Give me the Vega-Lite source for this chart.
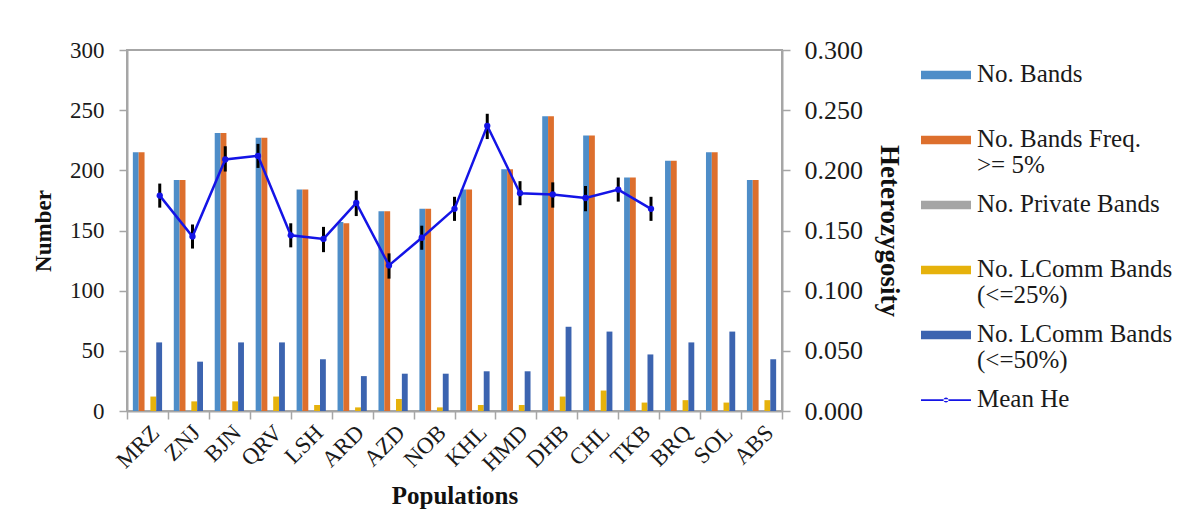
{
  "$schema": "https://vega.github.io/schema/vega-lite/v6.json",
  "width": 655,
  "height": 361,
  "autosize": {"type": "none"},
  "padding": {"left": 127, "top": 50, "right": 406, "bottom": 106},
  "background": "white",
  "config": {
    "font": "Liberation Serif",
    "view": {"stroke": "#a6a6a6", "strokeWidth": 2},
    "axis": {
      "labelFont": "Liberation Serif",
      "titleFont": "Liberation Serif",
      "labelColor": "#1a1a1a",
      "titleColor": "#111111",
      "domainColor": "#a6a6a6",
      "tickColor": "#a6a6a6",
      "domainWidth": 2,
      "tickWidth": 1.5,
      "grid": false,
      "labelFontSize": 23,
      "titleFontSize": 25,
      "titleFontWeight": "bold"
    },
    "legend": {"labelFont": "Liberation Serif"}
  },
  "datasets": {
    "bands": [
      {"pop": "MRZ", "series": "No. Bands", "value": 215},
      {"pop": "MRZ", "series": "No. Bands Freq. >= 5%", "value": 215},
      {"pop": "MRZ", "series": "No. Private Bands", "value": 0},
      {"pop": "MRZ", "series": "No. LComm Bands (<=25%)", "value": 12},
      {"pop": "MRZ", "series": "No. LComm Bands (<=50%)", "value": 57},
      {"pop": "ZNJ", "series": "No. Bands", "value": 192},
      {"pop": "ZNJ", "series": "No. Bands Freq. >= 5%", "value": 192},
      {"pop": "ZNJ", "series": "No. Private Bands", "value": 0},
      {"pop": "ZNJ", "series": "No. LComm Bands (<=25%)", "value": 8},
      {"pop": "ZNJ", "series": "No. LComm Bands (<=50%)", "value": 41},
      {"pop": "BJN", "series": "No. Bands", "value": 231},
      {"pop": "BJN", "series": "No. Bands Freq. >= 5%", "value": 231},
      {"pop": "BJN", "series": "No. Private Bands", "value": 0},
      {"pop": "BJN", "series": "No. LComm Bands (<=25%)", "value": 8},
      {"pop": "BJN", "series": "No. LComm Bands (<=50%)", "value": 57},
      {"pop": "QRV", "series": "No. Bands", "value": 227},
      {"pop": "QRV", "series": "No. Bands Freq. >= 5%", "value": 227},
      {"pop": "QRV", "series": "No. Private Bands", "value": 0},
      {"pop": "QRV", "series": "No. LComm Bands (<=25%)", "value": 12},
      {"pop": "QRV", "series": "No. LComm Bands (<=50%)", "value": 57},
      {"pop": "LSH", "series": "No. Bands", "value": 184},
      {"pop": "LSH", "series": "No. Bands Freq. >= 5%", "value": 184},
      {"pop": "LSH", "series": "No. Private Bands", "value": 0},
      {"pop": "LSH", "series": "No. LComm Bands (<=25%)", "value": 5},
      {"pop": "LSH", "series": "No. LComm Bands (<=50%)", "value": 43},
      {"pop": "ARD", "series": "No. Bands", "value": 157},
      {"pop": "ARD", "series": "No. Bands Freq. >= 5%", "value": 156},
      {"pop": "ARD", "series": "No. Private Bands", "value": 0},
      {"pop": "ARD", "series": "No. LComm Bands (<=25%)", "value": 3},
      {"pop": "ARD", "series": "No. LComm Bands (<=50%)", "value": 29},
      {"pop": "AZD", "series": "No. Bands", "value": 166},
      {"pop": "AZD", "series": "No. Bands Freq. >= 5%", "value": 166},
      {"pop": "AZD", "series": "No. Private Bands", "value": 0},
      {"pop": "AZD", "series": "No. LComm Bands (<=25%)", "value": 10},
      {"pop": "AZD", "series": "No. LComm Bands (<=50%)", "value": 31},
      {"pop": "NOB", "series": "No. Bands", "value": 168},
      {"pop": "NOB", "series": "No. Bands Freq. >= 5%", "value": 168},
      {"pop": "NOB", "series": "No. Private Bands", "value": 0},
      {"pop": "NOB", "series": "No. LComm Bands (<=25%)", "value": 3},
      {"pop": "NOB", "series": "No. LComm Bands (<=50%)", "value": 31},
      {"pop": "KHL", "series": "No. Bands", "value": 184},
      {"pop": "KHL", "series": "No. Bands Freq. >= 5%", "value": 184},
      {"pop": "KHL", "series": "No. Private Bands", "value": 0},
      {"pop": "KHL", "series": "No. LComm Bands (<=25%)", "value": 5},
      {"pop": "KHL", "series": "No. LComm Bands (<=50%)", "value": 33},
      {"pop": "HMD", "series": "No. Bands", "value": 201},
      {"pop": "HMD", "series": "No. Bands Freq. >= 5%", "value": 201},
      {"pop": "HMD", "series": "No. Private Bands", "value": 0},
      {"pop": "HMD", "series": "No. LComm Bands (<=25%)", "value": 5},
      {"pop": "HMD", "series": "No. LComm Bands (<=50%)", "value": 33},
      {"pop": "DHB", "series": "No. Bands", "value": 245},
      {"pop": "DHB", "series": "No. Bands Freq. >= 5%", "value": 245},
      {"pop": "DHB", "series": "No. Private Bands", "value": 0},
      {"pop": "DHB", "series": "No. LComm Bands (<=25%)", "value": 12},
      {"pop": "DHB", "series": "No. LComm Bands (<=50%)", "value": 70},
      {"pop": "CHL", "series": "No. Bands", "value": 229},
      {"pop": "CHL", "series": "No. Bands Freq. >= 5%", "value": 229},
      {"pop": "CHL", "series": "No. Private Bands", "value": 0},
      {"pop": "CHL", "series": "No. LComm Bands (<=25%)", "value": 17},
      {"pop": "CHL", "series": "No. LComm Bands (<=50%)", "value": 66},
      {"pop": "TKB", "series": "No. Bands", "value": 194},
      {"pop": "TKB", "series": "No. Bands Freq. >= 5%", "value": 194},
      {"pop": "TKB", "series": "No. Private Bands", "value": 0},
      {"pop": "TKB", "series": "No. LComm Bands (<=25%)", "value": 7},
      {"pop": "TKB", "series": "No. LComm Bands (<=50%)", "value": 47},
      {"pop": "BRQ", "series": "No. Bands", "value": 208},
      {"pop": "BRQ", "series": "No. Bands Freq. >= 5%", "value": 208},
      {"pop": "BRQ", "series": "No. Private Bands", "value": 0},
      {"pop": "BRQ", "series": "No. LComm Bands (<=25%)", "value": 9},
      {"pop": "BRQ", "series": "No. LComm Bands (<=50%)", "value": 57},
      {"pop": "SOL", "series": "No. Bands", "value": 215},
      {"pop": "SOL", "series": "No. Bands Freq. >= 5%", "value": 215},
      {"pop": "SOL", "series": "No. Private Bands", "value": 0},
      {"pop": "SOL", "series": "No. LComm Bands (<=25%)", "value": 7},
      {"pop": "SOL", "series": "No. LComm Bands (<=50%)", "value": 66},
      {"pop": "ABS", "series": "No. Bands", "value": 192},
      {"pop": "ABS", "series": "No. Bands Freq. >= 5%", "value": 192},
      {"pop": "ABS", "series": "No. Private Bands", "value": 0},
      {"pop": "ABS", "series": "No. LComm Bands (<=25%)", "value": 9},
      {"pop": "ABS", "series": "No. LComm Bands (<=50%)", "value": 43}
    ],
    "he": [
      {"pop": "MRZ", "he": 0.179, "lo": 0.169, "hi": 0.189},
      {"pop": "ZNJ", "he": 0.145, "lo": 0.135, "hi": 0.155},
      {"pop": "BJN", "he": 0.209, "lo": 0.199, "hi": 0.220},
      {"pop": "QRV", "he": 0.212, "lo": 0.202, "hi": 0.222},
      {"pop": "LSH", "he": 0.146, "lo": 0.136, "hi": 0.156},
      {"pop": "ARD", "he": 0.143, "lo": 0.132, "hi": 0.153},
      {"pop": "AZD", "he": 0.173, "lo": 0.162, "hi": 0.183},
      {"pop": "NOB", "he": 0.121, "lo": 0.110, "hi": 0.131},
      {"pop": "KHL", "he": 0.144, "lo": 0.134, "hi": 0.154},
      {"pop": "HMD", "he": 0.168, "lo": 0.158, "hi": 0.178},
      {"pop": "DHB", "he": 0.237, "lo": 0.226, "hi": 0.247},
      {"pop": "CHL", "he": 0.181, "lo": 0.171, "hi": 0.191},
      {"pop": "TKB", "he": 0.180, "lo": 0.169, "hi": 0.190},
      {"pop": "BRQ", "he": 0.177, "lo": 0.166, "hi": 0.187},
      {"pop": "SOL", "he": 0.184, "lo": 0.174, "hi": 0.194},
      {"pop": "ABS", "he": 0.168, "lo": 0.158, "hi": 0.178}
    ]
  },
  "layer": [
    {
      "data": {"name": "bands"},
      "mark": {"type": "bar"},
      "encoding": {
        "x": {
          "field": "pop",
          "type": "nominal",
          "sort": null,
          "scale": {"paddingInner": 0, "paddingOuter": 0},
          "axis": {
            "title": "Populations",
            "labelAngle": -45,
            "labelAlign": "right",
            "labelBaseline": "top",
            "tickBand": "extent",
            "tickSize": 8,
            "labelPadding": 2,
            "titlePadding": 8
          }
        },
        "xOffset": {
          "field": "series",
          "type": "nominal",
          "sort": null,
          "scale": {"paddingInner": 0, "paddingOuter": 1.2}
        },
        "y": {
          "field": "value",
          "type": "quantitative",
          "scale": {"domain": [0, 300]},
          "axis": {
            "title": "Number",
            "titleFontSize": 23,
            "values": [0, 50, 100, 150, 200, 250, 300],
            "tickSize": 8,
            "labelPadding": 15,
            "titlePadding": 14
          }
        },
        "color": {
          "field": "series",
          "type": "nominal",
          "scale": {
            "domain": ["No. Bands", "No. Bands Freq. >= 5%", "No. Private Bands", "No. LComm Bands (<=25%)", "No. LComm Bands (<=50%)", "Mean He"],
            "range": ["#4e8dc8", "#dd6f2d", "#a5a5a5", "#e6b20c", "#3c64b0", "#1414e6"]
          },
          "legend": {
            "orient": "none",
            "legendX": 794,
            "legendY": 0,
            "title": null,
            "symbolSize": 2500,
            "symbolStrokeWidth": 0,
            "labelFont": "Liberation Serif",
            "labelFontSize": 25,
            "labelColor": "#1a1a1a",
            "labelOffset": 6,
            "labelBaseline": "top",
            "labelLimit": 300,
            "rowPadding": 2,
            "labelExpr": "datum.label == 'No. Bands Freq. >= 5%' ? ['No. Bands Freq.', '>= 5%'] : datum.label == 'No. LComm Bands (<=25%)' ? ['No. LComm Bands', '(<=25%)'] : datum.label == 'No. LComm Bands (<=50%)' ? ['No. LComm Bands', '(<=50%)'] : datum.label == 'Mean He' ? datum.label : [datum.label, ' ']",
            "encode": {
              "symbols": {
                "update": {
                  "shape": {"signal": "datum.value == 'Mean He' ? 'M-1,-0.035H1V0.035H-1Z M-0.1,0A0.1,0.1 0 1,0 0.1,0A0.1,0.1 0 1,0 -0.1,0Z' : 'M-1,-0.17H1V0.17H-1Z'"}
                }
              },
              "labels": {
                "update": {
                  "dy": {"value": -13},
                  "lineHeight": {"value": 26}
                }
              }
            }
          }
        }
      }
    },
    {
      "data": {"name": "he"},
      "transform": [{"window": [{"op": "row_number", "as": "idx"}]}],
      "encoding": {
        "x": {"field": "idx", "type": "quantitative", "scale": {"domain": [0, 20]}, "axis": null},
        "y": {
          "field": "he",
          "type": "quantitative",
          "scale": {"domain": [0, 0.3]},
          "axis": {
            "orient": "right",
            "title": "Heterozygosity",
            "values": [0, 0.05, 0.1, 0.15, 0.2, 0.25, 0.3],
            "format": ".3f",
            "tickSize": 8,
            "labelPadding": 14,
            "labelFontSize": 26,
            "titleFontSize": 27,
            "titlePadding": 12
          }
        }
      },
      "layer": [
        {
          "mark": {"type": "rule", "color": "#000000", "strokeWidth": 3},
          "encoding": {
            "y": {"field": "lo", "type": "quantitative"},
            "y2": {"field": "hi"}
          }
        },
        {
          "mark": {"type": "line", "color": "#1414e6", "strokeWidth": 2.5},
          "encoding": {}
        },
        {
          "mark": {"type": "point", "filled": true, "color": "#1414e6", "size": 40, "opacity": 1},
          "encoding": {}
        }
      ]
    }
  ],
  "resolve": {"scale": {"x": "independent", "y": "independent"}}
}
